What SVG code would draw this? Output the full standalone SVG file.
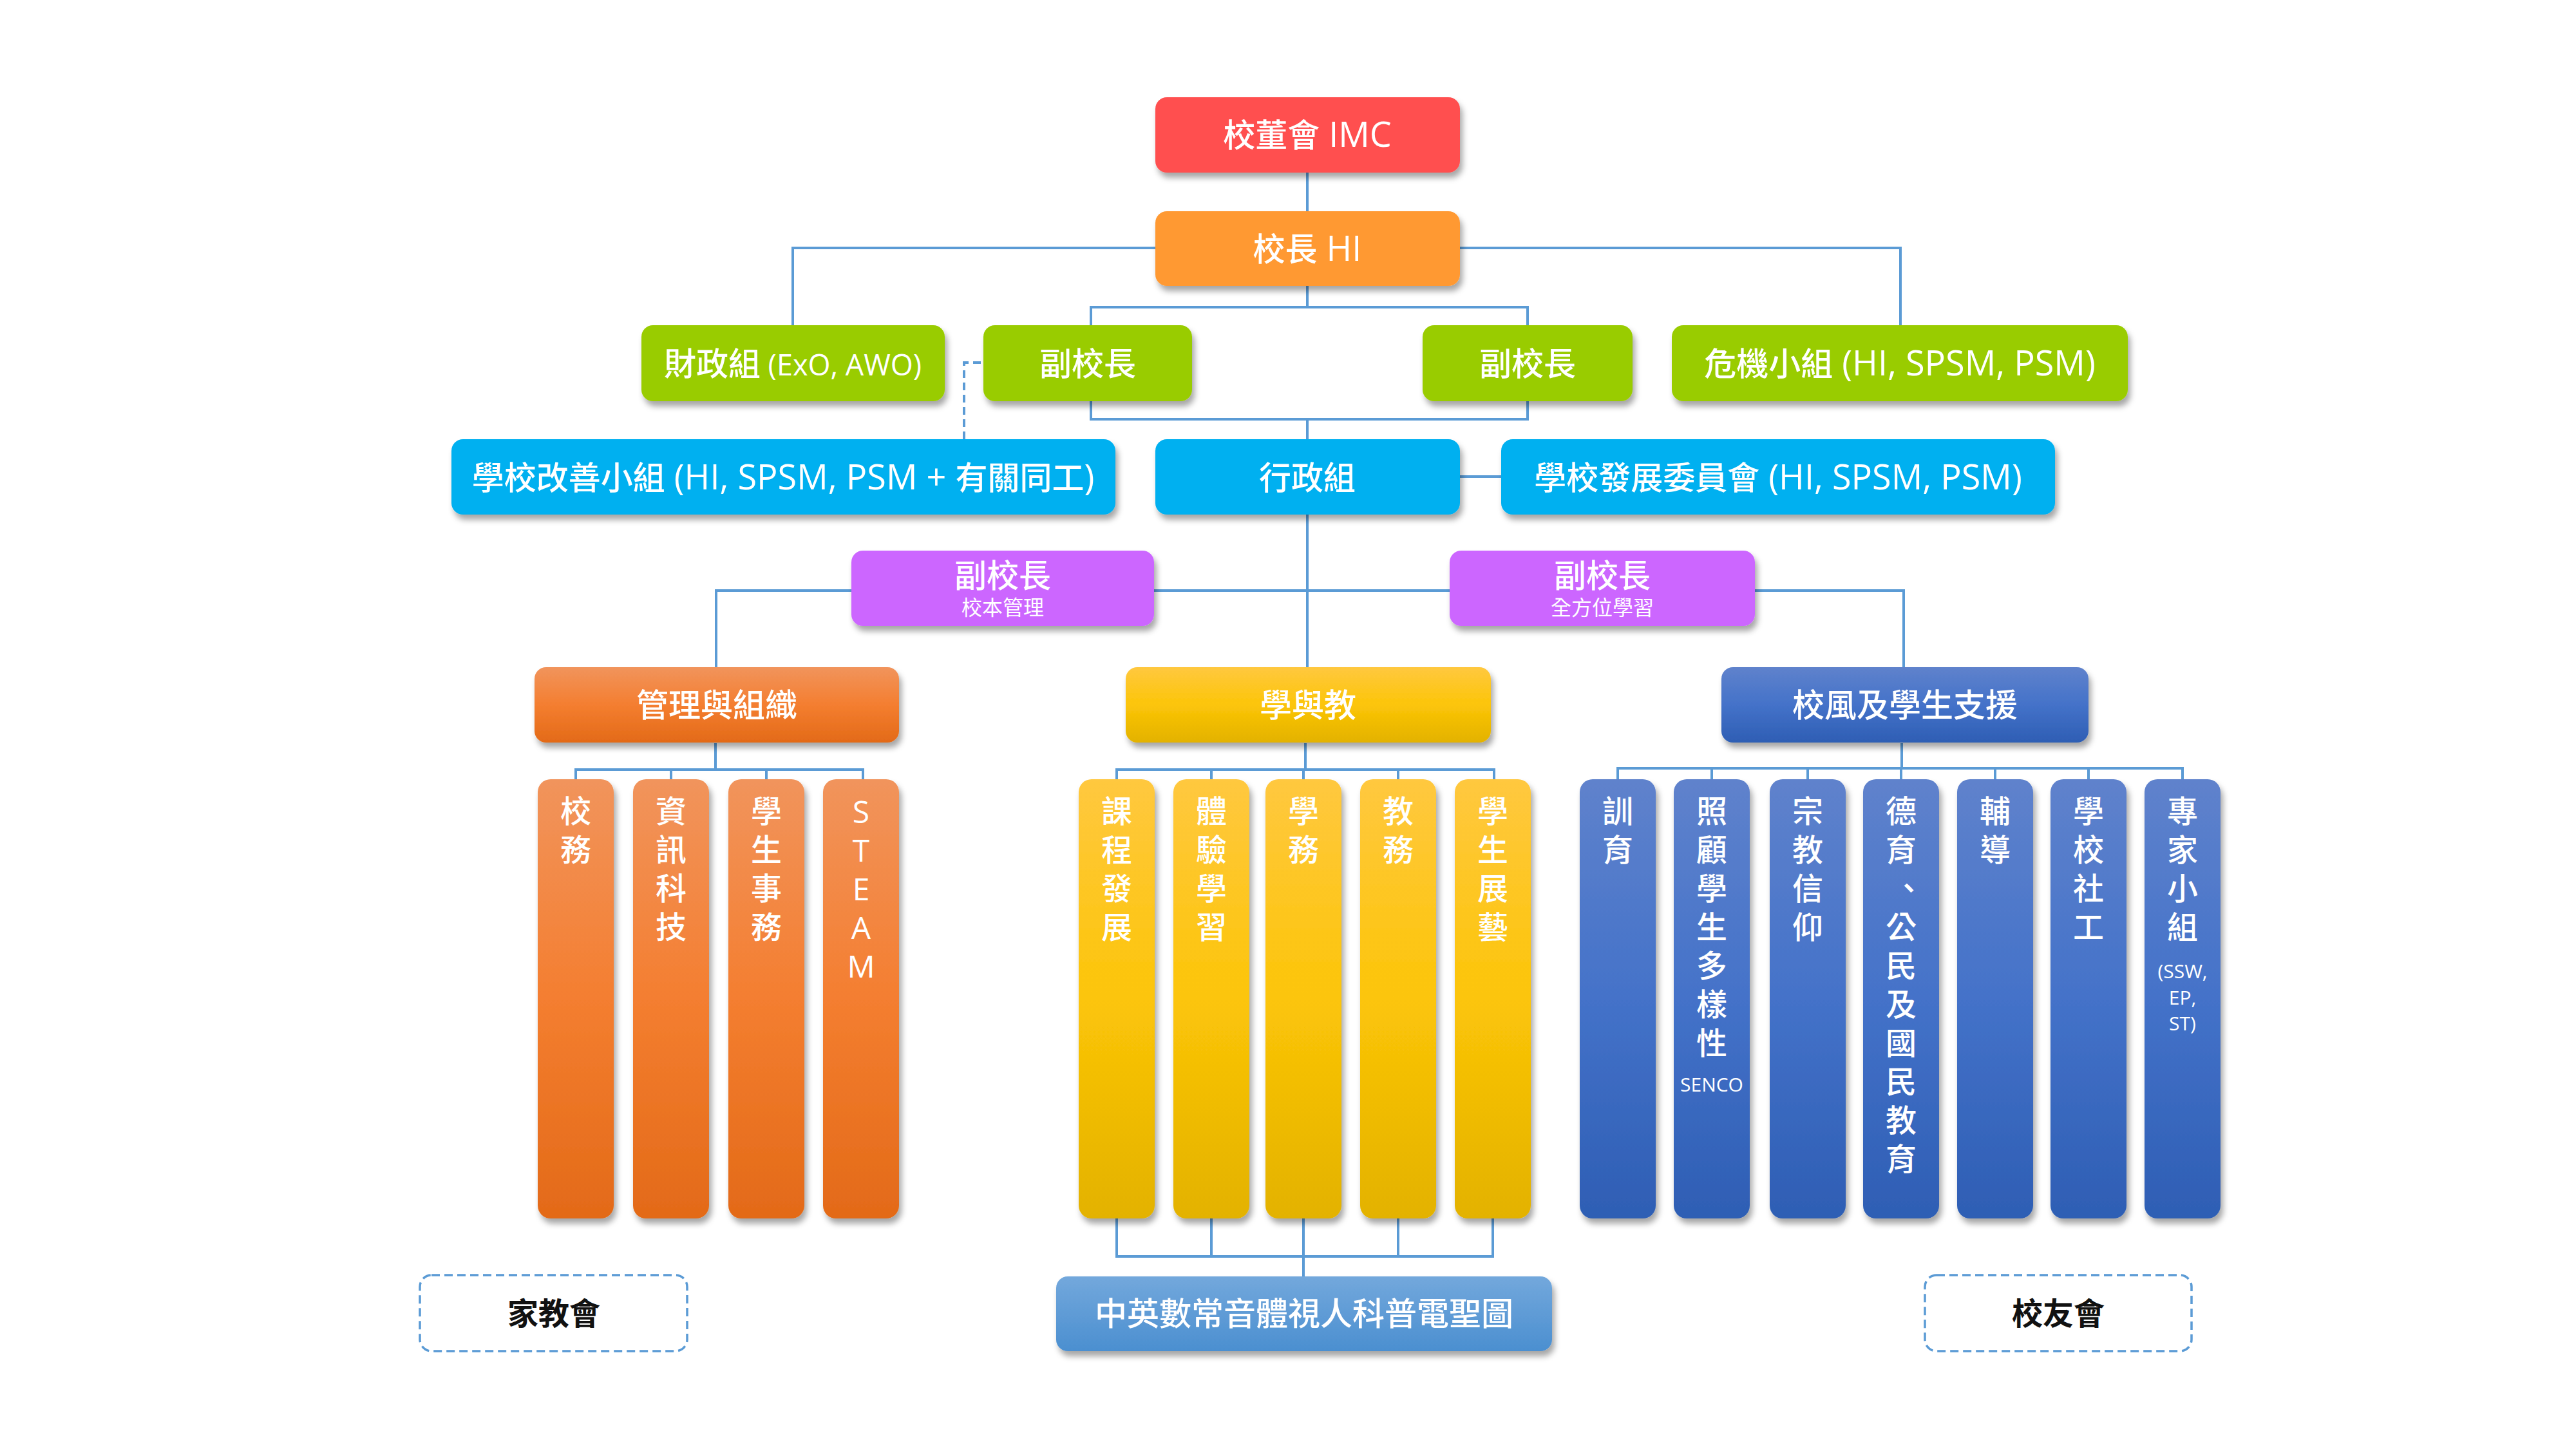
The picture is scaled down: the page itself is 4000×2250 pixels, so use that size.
<svg xmlns="http://www.w3.org/2000/svg" width="4000" height="2250" viewBox="0 0 4000 2250">
<defs>
<style>
text{font-family:'Open Sans','Noto Sans CJK TC',sans-serif;fill:#fff;text-anchor:middle;font-weight:500}
.t{font-size:50px}
.l{font-size:54px}
.e{font-size:45px}
.s{font-size:32px;font-weight:400}
.c{font-size:48px}
.cl{font-size:48px}
.m{font-size:30px;font-weight:400}
.k{fill:#111;font-size:48px;font-weight:bold}
.con{fill:none;stroke:#5b9bd5;stroke-width:4}
.dash{stroke-dasharray:12 7}
.box{filter:url(#sh)}
.ob{fill:#fff;stroke:#5b9bd5;stroke-width:3.5;stroke-dasharray:13 7}
</style>
<filter id="sh" x="-20%" y="-20%" width="150%" height="160%"><feDropShadow dx="4" dy="8" stdDeviation="5" flood-color="#000" flood-opacity="0.35"/></filter>
<linearGradient id="gO" x1="0" y1="0" x2="0" y2="1"><stop offset="0" stop-color="#F1945C"/><stop offset="0.5" stop-color="#F47E30"/><stop offset="1" stop-color="#E36A18"/></linearGradient>
<linearGradient id="gY" x1="0" y1="0" x2="0" y2="1"><stop offset="0" stop-color="#FFC83F"/><stop offset="0.5" stop-color="#FCC508"/><stop offset="1" stop-color="#E3B200"/></linearGradient>
<linearGradient id="gB" x1="0" y1="0" x2="0" y2="1"><stop offset="0" stop-color="#5F82CC"/><stop offset="0.5" stop-color="#4472C9"/><stop offset="1" stop-color="#2E5EB4"/></linearGradient>
<linearGradient id="gL" x1="0" y1="0" x2="0" y2="1"><stop offset="0" stop-color="#73A8DC"/><stop offset="1" stop-color="#4B8FD0"/></linearGradient>
</defs>
<rect width="4000" height="2250" fill="#fff"/>

<g id="connectors">
<path class="con" d="M2030 268V328 M2030 444V477 M1694 505V477H2372V505 M1231 505V385H2951V505 M1694 623V651H2372V623 M2030 651V682 M2267 740H2331 M2030 799V1036 M1112 1036V917H2956V1036"/>
<path class="con" d="M1111 1154V1195 M894 1210V1195H1340V1210 M1042 1195V1210 M1190 1195V1210"/>
<path class="con" d="M2027 1154V1195 M1734 1210V1195H2320V1210 M1881 1195V1210 M2024 1195V1210 M2171 1195V1210"/>
<path class="con" d="M2953 1154V1193 M2512 1210V1193H3389V1210 M2658 1193V1210 M2807 1193V1210 M2952 1193V1210 M3098 1193V1210 M3243 1193V1210"/>
<path class="con" d="M1734 1892V1951H2318V1892 M1881 1892V1951 M2171 1892V1951 M2024 1892V1982"/>
<path class="con dash" d="M1497 682V563H1527"/>
</g>

<g id="imc"><rect class="box" x="1794" y="151" width="473" height="117" rx="18" fill="#FF5050"/><text class="t" x="2030" y="228">校董會<tspan class="l"> IMC</tspan></text></g>
<g id="hi"><rect class="box" x="1794" y="328" width="473" height="116" rx="18" fill="#FF9933"/><text class="t" x="2030" y="405">校長<tspan class="l"> HI</tspan></text></g>

<g id="finance"><rect class="box" x="996" y="505" width="471" height="118" rx="18" fill="#99CC00"/><text class="t" x="1231" y="583">財政組<tspan class="e"> (ExO, AWO)</tspan></text></g>
<g id="vp1"><rect class="box" x="1527" y="505" width="324" height="118" rx="18" fill="#99CC00"/><text class="t" x="1689" y="583">副校長</text></g>
<g id="vp2"><rect class="box" x="2209" y="505" width="326" height="118" rx="18" fill="#99CC00"/><text class="t" x="2372" y="583">副校長</text></g>
<g id="crisis"><rect class="box" x="2596" y="505" width="708" height="118" rx="18" fill="#99CC00"/><text class="t" x="2950" y="583">危機小組<tspan class="l"> (HI, SPSM, PSM)</tspan></text></g>

<g id="improve"><rect class="box" x="701" y="682" width="1031" height="117" rx="18" fill="#00B0F0"/><text class="t" x="1216" y="760">學校改善小組<tspan class="l"> (HI, SPSM, PSM + </tspan>有關同工<tspan class="l">)</tspan></text></g>
<g id="admin"><rect class="box" x="1794" y="682" width="473" height="117" rx="18" fill="#00B0F0"/><text class="t" x="2030" y="760">行政組</text></g>
<g id="develop"><rect class="box" x="2331" y="682" width="860" height="117" rx="18" fill="#00B0F0"/><text class="t" x="2761" y="760">學校發展委員會<tspan class="l"> (HI, SPSM, PSM)</tspan></text></g>

<g id="vp3"><rect class="box" x="1322" y="855" width="470" height="117" rx="18" fill="#CC66FF"/><text class="t" x="1557" y="912">副校長</text><text class="s" x="1557" y="955">校本管理</text></g>
<g id="vp4"><rect class="box" x="2251" y="855" width="474" height="117" rx="18" fill="#CC66FF"/><text class="t" x="2488" y="912">副校長</text><text class="s" x="2488" y="955">全方位學習</text></g>

<g id="mgmt"><rect class="box" x="830" y="1036" width="566" height="117" rx="18" fill="url(#gO)"/><text class="t" x="1113" y="1113">管理與組織</text></g>
<g id="lt"><rect class="box" x="1748" y="1036" width="567" height="117" rx="18" fill="url(#gY)"/><text class="t" x="2031" y="1113">學與教</text></g>
<g id="ethos"><rect class="box" x="2673" y="1036" width="570" height="117" rx="18" fill="url(#gB)"/><text class="t" x="2958" y="1113">校風及學生支援</text></g>

<g id="o1"><rect class="box" x="835" y="1210" width="118" height="682" rx="20" fill="url(#gO)"/><text class="c" x="894" y="1277">校<tspan x="894" dy="60">務</tspan></text></g>
<g id="o2"><rect class="box" x="983" y="1210" width="118" height="682" rx="20" fill="url(#gO)"/><text class="c" x="1042" y="1277">資<tspan x="1042" dy="60">訊</tspan><tspan x="1042" dy="60">科</tspan><tspan x="1042" dy="60">技</tspan></text></g>
<g id="o3"><rect class="box" x="1131" y="1210" width="118" height="682" rx="20" fill="url(#gO)"/><text class="c" x="1190" y="1277">學<tspan x="1190" dy="60">生</tspan><tspan x="1190" dy="60">事</tspan><tspan x="1190" dy="60">務</tspan></text></g>
<g id="o4"><rect class="box" x="1278" y="1210" width="118" height="682" rx="20" fill="url(#gO)"/><text class="cl" x="1337" y="1278">S<tspan x="1337" dy="60">T</tspan><tspan x="1337" dy="60">E</tspan><tspan x="1337" dy="60">A</tspan><tspan x="1337" dy="60">M</tspan></text></g>

<g id="y1"><rect class="box" x="1675" y="1210" width="118" height="682" rx="20" fill="url(#gY)"/><text class="c" x="1734" y="1277">課<tspan x="1734" dy="60">程</tspan><tspan x="1734" dy="60">發</tspan><tspan x="1734" dy="60">展</tspan></text></g>
<g id="y2"><rect class="box" x="1822" y="1210" width="118" height="682" rx="20" fill="url(#gY)"/><text class="c" x="1881" y="1277">體<tspan x="1881" dy="60">驗</tspan><tspan x="1881" dy="60">學</tspan><tspan x="1881" dy="60">習</tspan></text></g>
<g id="y3"><rect class="box" x="1965" y="1210" width="118" height="682" rx="20" fill="url(#gY)"/><text class="c" x="2024" y="1277">學<tspan x="2024" dy="60">務</tspan></text></g>
<g id="y4"><rect class="box" x="2112" y="1210" width="118" height="682" rx="20" fill="url(#gY)"/><text class="c" x="2171" y="1277">教<tspan x="2171" dy="60">務</tspan></text></g>
<g id="y5"><rect class="box" x="2259" y="1210" width="118" height="682" rx="20" fill="url(#gY)"/><text class="c" x="2318" y="1277">學<tspan x="2318" dy="60">生</tspan><tspan x="2318" dy="60">展</tspan><tspan x="2318" dy="60">藝</tspan></text></g>

<g id="b1"><rect class="box" x="2453" y="1210" width="118" height="682" rx="20" fill="url(#gB)"/><text class="c" x="2512" y="1277">訓<tspan x="2512" dy="60">育</tspan></text></g>
<g id="b2"><rect class="box" x="2599" y="1210" width="118" height="682" rx="20" fill="url(#gB)"/><text class="c" x="2658" y="1277">照<tspan x="2658" dy="60">顧</tspan><tspan x="2658" dy="60">學</tspan><tspan x="2658" dy="60">生</tspan><tspan x="2658" dy="60">多</tspan><tspan x="2658" dy="60">樣</tspan><tspan x="2658" dy="60">性</tspan></text><text class="m" x="2658" y="1695">SENCO</text></g>
<g id="b3"><rect class="box" x="2748" y="1210" width="118" height="682" rx="20" fill="url(#gB)"/><text class="c" x="2807" y="1277">宗<tspan x="2807" dy="60">教</tspan><tspan x="2807" dy="60">信</tspan><tspan x="2807" dy="60">仰</tspan></text></g>
<g id="b4"><rect class="box" x="2893" y="1210" width="118" height="682" rx="20" fill="url(#gB)"/><text class="c" x="2952" y="1277">德<tspan x="2952" dy="60">育</tspan><tspan x="2964" dy="60">、</tspan><tspan x="2952" dy="60">公</tspan><tspan x="2952" dy="60">民</tspan><tspan x="2952" dy="60">及</tspan><tspan x="2952" dy="60">國</tspan><tspan x="2952" dy="60">民</tspan><tspan x="2952" dy="60">教</tspan><tspan x="2952" dy="60">育</tspan></text></g>
<g id="b5"><rect class="box" x="3039" y="1210" width="118" height="682" rx="20" fill="url(#gB)"/><text class="c" x="3098" y="1277">輔<tspan x="3098" dy="60">導</tspan></text></g>
<g id="b6"><rect class="box" x="3184" y="1210" width="118" height="682" rx="20" fill="url(#gB)"/><text class="c" x="3243" y="1277">學<tspan x="3243" dy="60">校</tspan><tspan x="3243" dy="60">社</tspan><tspan x="3243" dy="60">工</tspan></text></g>
<g id="b7"><rect class="box" x="3330" y="1210" width="118" height="682" rx="20" fill="url(#gB)"/><text class="c" x="3389" y="1277">專<tspan x="3389" dy="60">家</tspan><tspan x="3389" dy="60">小</tspan><tspan x="3389" dy="60">組</tspan></text><text class="m" x="3389" y="1519">(SSW,<tspan x="3389" dy="41">EP,</tspan><tspan x="3389" dy="40">ST)</tspan></text></g>

<g id="subjects"><rect class="box" x="1640" y="1982" width="770" height="116" rx="18" fill="url(#gL)"/><text class="t" x="2025" y="2058">中英數常音體視人科普電聖圖</text></g>
<g id="pta"><rect class="ob" x="652" y="1980" width="415" height="118" rx="18"/><text class="k" x="860" y="2057">家教會</text></g>
<g id="alumni"><rect class="ob" x="2989" y="1980" width="414" height="118" rx="18"/><text class="k" x="3196" y="2057">校友會</text></g>
</svg>
